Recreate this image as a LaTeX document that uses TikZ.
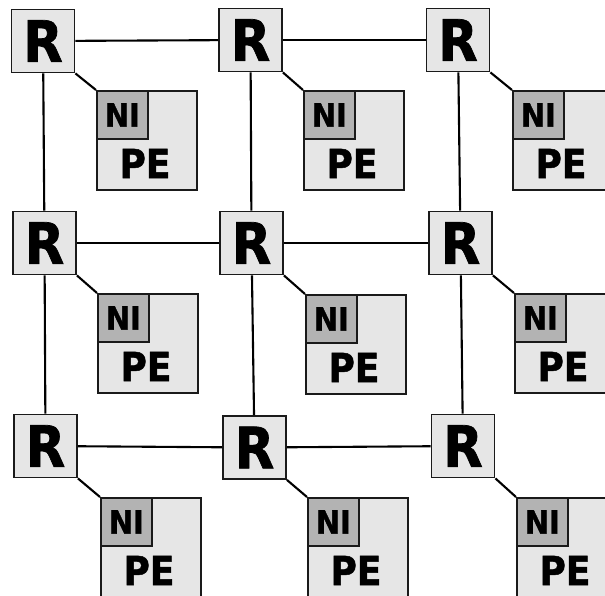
\documentclass[tikz,border=0pt]{standalone}
\usepackage{fontspec}
\newfontfamily\lblfont{DejaVu Sans}[FakeStretch=0.9,FakeBold=1.3]
\definecolor{boxfill}{HTML}{E6E6E6}
\definecolor{nifill}{HTML}{B3B3B3}
\definecolor{edge}{HTML}{1A1A1A}
\tikzset{
  router/.style={draw=edge, fill=boxfill, line width=1.8pt, minimum width=63pt, minimum height=63pt,
    inner sep=0pt, font=\lblfont\bfseries\fontsize{57}{57}\selectfont},
  pebox/.style={draw=edge, fill=boxfill, line width=1.8pt, minimum width=100pt, minimum height=99pt,
    inner sep=0pt, anchor=north west},
  nibox/.style={draw=edge, fill=nifill, line width=1.8pt, minimum width=51pt, minimum height=48pt,
    inner sep=0pt, anchor=north west, font=\lblfont\bfseries\fontsize{32}{32}\selectfont},
  petext/.style={inner sep=0pt, font=\lblfont\bfseries\fontsize{40}{40}\selectfont},
  link/.style={draw=black, line width=2.1pt}
}
\begin{document}
\begin{tikzpicture}[x=1pt,y=-1pt]
\useasboundingbox (0,0) rectangle (605,595);
\clip (0,0) rectangle (605,595);
% routers, each with its processing element and network interface
\foreach \i/\cx/\cy/\px/\py in {
  11/43/41/96/90, 12/250.5/40/303/90, 13/458/40/512/90,
  21/44.5/243/97/293, 22/251.5/243/305/294, 23/460.5/243/514/293,
  31/45.5/446/100/497, 32/254.5/447.5/307/497, 33/463/446/516/497}{
  \node[router] (r\i) at (\cx,\cy) {R};
  \node[pebox] (p\i) at (\px,\py) {};
  \node[nibox] (n\i) at (p\i.north west) {NI};
  \node[petext] (t\i) at ([shift={(49,73.5)}]p\i.north west) {PE};
  \draw[link] (r\i.south east) -- (p\i.north west);
}
% mesh links between routers
\foreach \a/\b in {11/12, 12/13, 21/22, 22/23, 31/32, 32/33,
                   11/21, 21/31, 12/22, 22/32, 13/23, 23/33}{
  \draw[link] (r\a) -- (r\b);
}
\end{tikzpicture}
\end{document}
